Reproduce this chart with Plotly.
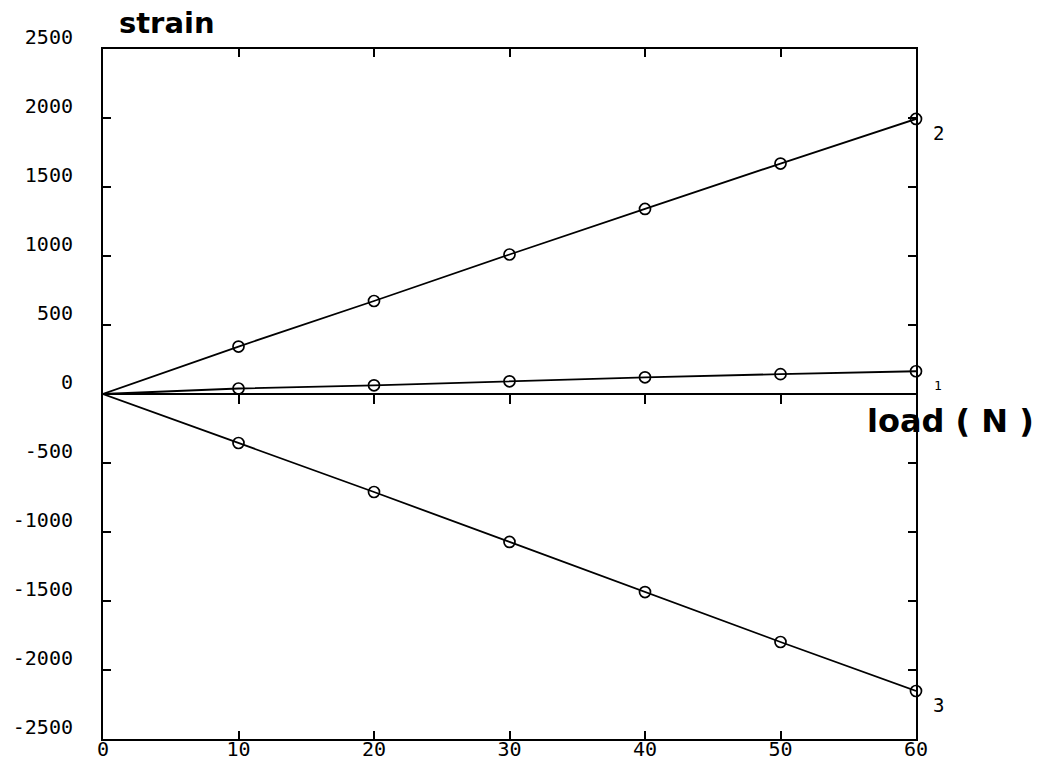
import plotly.graph_objects as go

# Load steps (N) and measured strain for the three gauges
load = [0, 10, 20, 30, 40, 50, 60]
strain_1 = [0, 40, 63, 92, 121, 144, 165]
strain_2 = [0, 344, 674, 1011, 1341, 1670, 1993]
strain_3 = [0, -355, -710, -1072, -1435, -1797, -2152]
gauge_names = ["1", "2", "3"]

x_ticks = [0, 10, 20, 30, 40, 50, 60]
y_ticks = [2500, 2000, 1500, 1000, 500, 0, -500, -1000, -1500, -2000, -2500]

W, H = 1051, 766
M_L, M_R, M_T, M_B = 103, 135, 49, 27

tick_font = dict(family="DejaVu Sans Mono", size=20, color="black")

fig = go.Figure()

series = [strain_1, strain_2, strain_3]
for vals in series:
    # fitted line through the origin
    fig.add_trace(go.Scatter(
        x=load, y=vals, mode="lines",
        line=dict(color="black", width=1.8),
        hoverinfo="skip", showlegend=False, cliponaxis=False,
    ))
    # measured points (the origin is not a measured point)
    fig.add_trace(go.Scatter(
        x=load[1:], y=vals[1:], mode="markers",
        marker=dict(symbol="circle-open", size=11, color="black",
                    line=dict(color="black", width=1.7)),
        showlegend=False, cliponaxis=False,
    ))

# gauge numbers next to the last point of each curve
for name, vals in zip(gauge_names, series):
    fig.add_annotation(
        x=load[-1], y=vals[-1], xref="x", yref="y",
        text=name, showarrow=False, xanchor="center", yanchor="middle",
        xshift=22, yshift=-14,
        font=dict(family="DejaVu Sans Mono", size=19 if name != "1" else 13,
                  color="black"),
    )

# horizontal load axis through strain = 0, with ticks hanging below it
fig.add_trace(go.Scatter(x=[load[0], load[-1]], y=[0, 0], xaxis="x2", mode="lines",
                         line=dict(color="rgba(0,0,0,0)"), hoverinfo="skip",
                         showlegend=False))

fig.update_layout(
    width=W, height=H,
    margin=dict(l=M_L, r=M_R, t=M_T, b=M_B, autoexpand=False),
    paper_bgcolor="white", plot_bgcolor="white",
    xaxis=dict(
        range=[0, 60], tickvals=x_ticks, ticktext=[str(v) for v in x_ticks],
        showgrid=False, zeroline=False, automargin=False,
        showline=True, linecolor="black", linewidth=2, mirror="ticks",
        ticks="inside", ticklen=8, tickwidth=1.5, tickcolor="black",
        tickfont=tick_font, ticklabelstandoff=-9,
    ),
    xaxis2=dict(
        range=[0, 60], overlaying="x", anchor="free", position=0.5,
        side="bottom", tickvals=x_ticks[1:-1], showticklabels=False,
        showgrid=False, zeroline=False, automargin=False,
        showline=True, linecolor="black", linewidth=1.5,
        ticks="outside", ticklen=9, tickwidth=1.5, tickcolor="black",
    ),
    yaxis=dict(
        range=[-2500, 2500], tickvals=y_ticks, ticktext=[str(v) for v in y_ticks],
        showgrid=False, zeroline=False, automargin=False,
        showline=True, linecolor="black", linewidth=2, mirror="ticks",
        ticks="inside", ticklen=8, tickwidth=1.5, tickcolor="black",
        tickfont=tick_font, ticklabelstandoff=24, ticklabelshift=-12,
    ),
)

# axis titles
fig.add_annotation(
    x=(117 - M_L) / (W - M_L - M_R), y=1 + 26 / (H - M_T - M_B),
    xref="paper", yref="paper", xanchor="left", yanchor="middle",
    text="strain", showarrow=False,
    font=dict(family="DejaVu Sans", size=29, color="black", weight="bold"),
)
fig.add_annotation(
    x=(865 - M_L) / (W - M_L - M_R), y=(H - M_B - 421) / (H - M_T - M_B),
    xref="paper", yref="paper", xanchor="left", yanchor="middle",
    text="load ( N )", showarrow=False,
    font=dict(family="DejaVu Sans", size=32, color="black", weight="bold"),
)

fig.write_html("out.html")
